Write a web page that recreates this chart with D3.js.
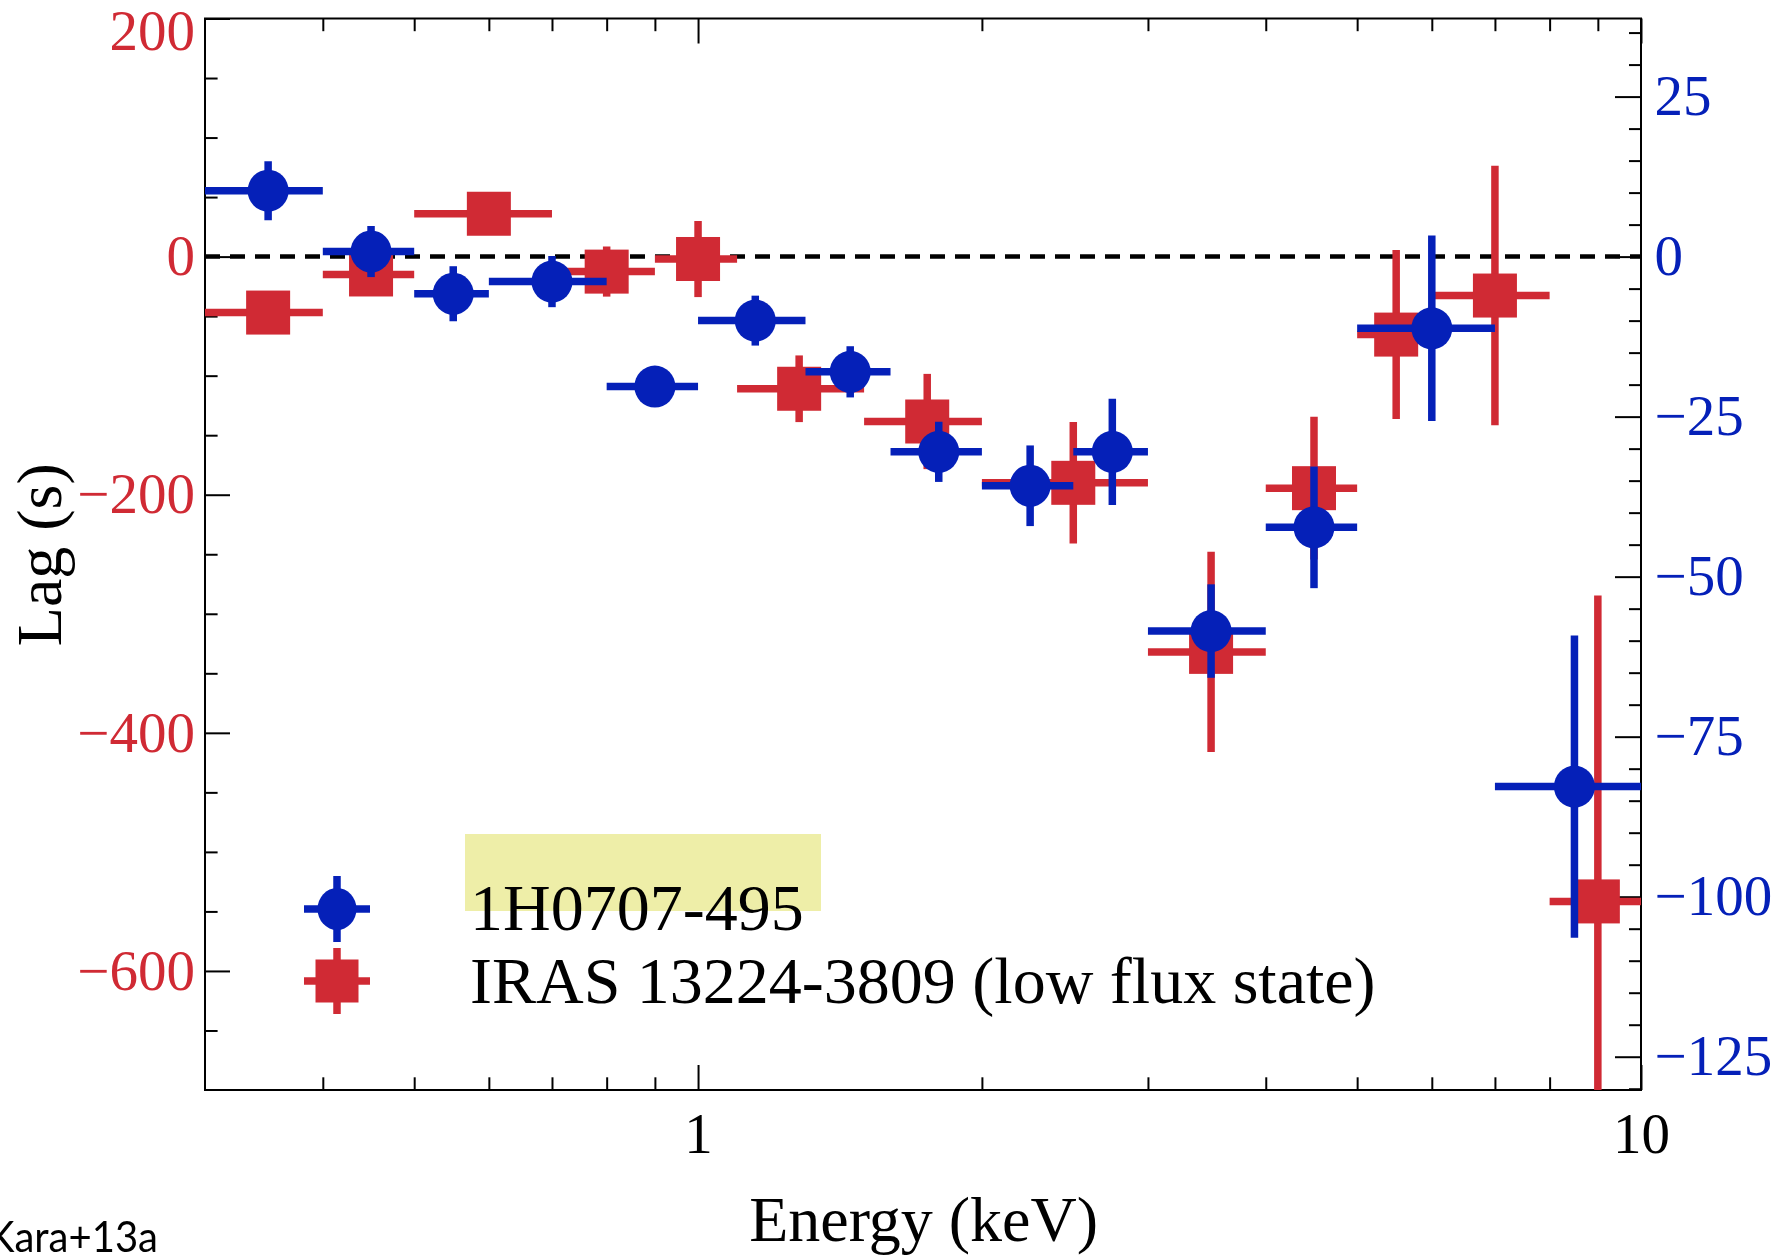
<!DOCTYPE html>
<html>
<head>
<meta charset="utf-8">
<script src="https://cdn.jsdelivr.net/npm/d3@7"></script>
<style>
  body { margin: 0; background: #fff; }
  svg { display: block; }
  .tick text { font-family: "Liberation Serif", "Times New Roman", serif; font-size: 57px; }
  .tick line { stroke: #000; stroke-width: 2; }
</style>
</head>
<body>
<svg width="1777" height="1255"></svg>
<script>
// 1H0707-495 (blue, right axis)
const blueElo = [0.3, 0.4, 0.5, 0.6, 0.8, 1.0, 1.3, 1.6, 2.0, 2.5, 3.0, 4.0, 5.0, 7.0];
const blueEhi = [0.4, 0.5, 0.6, 0.8, 1.0, 1.3, 1.6, 2.0, 2.5, 3.0, 4.0, 5.0, 7.0, 10];
const blueE   = [0.35, 0.45, 0.55, 0.70, 0.90, 1.15, 1.45, 1.80, 2.25, 2.75, 3.50, 4.50, 6.00, 8.50];
const blueLag = [10.3, 0.8, -5.8, -3.9, -20.3, -10.0, -18.0, -30.5, -35.8, -30.5, -58.5, -42.3, -11.2, -82.8];
const blueErr = [4.6, 4.0, 4.3, 4.0, 3.0, 3.9, 4.0, 4.7, 6.3, 8.3, 7.3, 9.5, 14.5, 23.6];

// IRAS 13224-3809 low flux (red, left axis)
const redElo = [0.3, 0.4, 0.5, 0.7, 0.9, 1.1, 1.5, 2.0, 3.0, 4.0, 5.0, 6.0, 8.0];
const redEhi = [0.4, 0.5, 0.7, 0.9, 1.1, 1.5, 2.0, 3.0, 4.0, 5.0, 6.0, 8.0, 10];
const redE   = [0.35, 0.45, 0.60, 0.80, 1.00, 1.28, 1.75, 2.50, 3.50, 4.50, 5.50, 7.00, 9.00];
const redLag = [-47, -15, 36, -12.6, -2, -111, -138.5, -190, -332, -194.5, -65.5, -32.7, -541.6];
const redErr = [12, 17, 12, 21, 32, 28, 40, 51, 84, 60, 71, 109, 257];

// ticks
const xMajor = [1, 10];
const xMinor = [0.4, 0.5, 0.6, 0.7, 0.8, 0.9, 2, 3, 4, 5, 6, 7, 8, 9];
const leftMajor = [-600, -400, -200, 0, 200];
const leftMinor = d3.range(-650, 200, 50).filter(v => !leftMajor.includes(v));
const rightMajor = [-125, -100, -75, -50, -25, 0, 25];
const rightMinor = d3.range(-130, 37, 5).filter(v => !rightMajor.includes(v));

const RED = "#d02a34", BLUE = "#0520b8";
const svg = d3.select("svg");
const L = 205, R = 1641, T = 18.5, B = 1090;

const x = d3.scaleLog().domain([0.3, 10]).range([L, R]);
const yL = d3.scaleLinear().domain([-700, 200]).range([B, T]);
const yR = d3.scaleLinear().domain([-130.2, 37.2]).range([B, T]);

svg.append("clipPath").attr("id", "plot")
  .append("rect").attr("x", L).attr("y", T).attr("width", R - L).attr("height", B - T);

// zero line
svg.append("line")
  .attr("x1", L).attr("x2", R).attr("y1", yL(0)).attr("y2", yL(0))
  .attr("stroke", "#000").attr("stroke-width", 4.5).attr("stroke-dasharray", "15,10");

const noDomain = g => g.select(".domain").remove();

// axes
svg.append("g").attr("transform", `translate(0,${B})`)
  .call(d3.axisBottom(x).tickValues(xMajor).tickSize(-25).tickPadding(23).tickFormat(d3.format("d")))
  .call(noDomain).selectAll("text").attr("fill", "#000");
svg.append("g").attr("transform", `translate(0,${B})`)
  .call(d3.axisBottom(x).tickValues(xMinor).tickSize(-12.7).tickFormat(""))
  .call(noDomain);
svg.append("g").attr("transform", `translate(0,${T})`)
  .call(d3.axisTop(x).tickValues(xMajor).tickSize(-25).tickFormat(""))
  .call(noDomain);
svg.append("g").attr("transform", `translate(0,${T})`)
  .call(d3.axisTop(x).tickValues(xMinor).tickSize(-12.7).tickFormat(""))
  .call(noDomain);

const gl = svg.append("g").attr("transform", `translate(${L},0)`)
  .call(d3.axisLeft(yL).tickValues(leftMajor).tickSize(-25).tickPadding(10))
  .call(noDomain);
gl.selectAll("text").attr("fill", RED)
  .filter(d => d === 200).attr("y", 12.5);
svg.append("g").attr("transform", `translate(${L},0)`)
  .call(d3.axisLeft(yL).tickValues(leftMinor).tickSize(-12.6).tickFormat(""))
  .call(noDomain);

svg.append("g").attr("transform", `translate(${R},0)`)
  .call(d3.axisRight(yR).tickValues(rightMajor).tickSize(-26).tickPadding(13.5))
  .call(noDomain).selectAll("text").attr("fill", BLUE);
svg.append("g").attr("transform", `translate(${R},0)`)
  .call(d3.axisRight(yR).tickValues(rightMinor).tickSize(-12).tickFormat(""))
  .call(noDomain);

svg.append("rect").attr("x", L).attr("y", T).attr("width", R - L).attr("height", B - T)
  .attr("fill", "none").attr("stroke", "#000").attr("stroke-width", 2);

// data
function drawSeries(E, lo, hi, lag, err, y, color, shape) {
  const g = svg.append("g").attr("clip-path", "url(#plot)");
  const pts = g.selectAll("g").data(E.map((e, i) => ({e, lo: lo[i], hi: hi[i], v: lag[i], s: err[i]})))
    .join("g");
  pts.append("line").attr("x1", d => x(d.lo)).attr("x2", d => x(d.hi))
    .attr("y1", d => y(d.v)).attr("y2", d => y(d.v))
    .attr("stroke", color).attr("stroke-width", 7.5);
  pts.append("line").attr("x1", d => x(d.e)).attr("x2", d => x(d.e))
    .attr("y1", d => y(d.v - d.s)).attr("y2", d => y(d.v + d.s))
    .attr("stroke", color).attr("stroke-width", 7.5);
  if (shape === "circle") {
    pts.append("ellipse").attr("cx", d => x(d.e)).attr("cy", d => y(d.v))
      .attr("rx", 20.5).attr("ry", 21).attr("fill", color);
  } else {
    pts.append("rect").attr("x", d => x(d.e) - 22).attr("y", d => y(d.v) - 22)
      .attr("width", 44).attr("height", 44).attr("fill", color);
  }
}
drawSeries(redE, redElo, redEhi, redLag, redErr, yL, RED, "square");
drawSeries(blueE, blueElo, blueEhi, blueLag, blueErr, yR, BLUE, "circle");

// legend
function legendMark(cx, cy, color, shape) {
  const g = svg.append("g");
  g.append("line").attr("x1", cx - 33).attr("x2", cx + 33).attr("y1", cy).attr("y2", cy)
    .attr("stroke", color).attr("stroke-width", 7.5);
  g.append("line").attr("x1", cx).attr("x2", cx).attr("y1", cy - 33).attr("y2", cy + 33)
    .attr("stroke", color).attr("stroke-width", 7.5);
  if (shape === "circle") g.append("ellipse").attr("cx", cx).attr("cy", cy).attr("rx", 19.5).attr("ry", 21).attr("fill", color);
  else g.append("rect").attr("x", cx - 21.5).attr("y", cy - 21.5).attr("width", 43).attr("height", 43).attr("fill", color);
}
legendMark(337, 909, BLUE, "circle");
legendMark(337, 981, RED, "square");

const serif = "'Liberation Serif', 'Times New Roman', serif";
svg.append("text").attr("x", 470).attr("y", 930).attr("font-family", serif).attr("font-size", 66)
  .text("1H0707-495");
svg.append("text").attr("x", 470).attr("y", 1003).attr("font-family", serif).attr("font-size", 66)
  .text("IRAS 13224-3809 (low flux state)");

svg.append("rect").attr("x", 465).attr("y", 834).attr("width", 356).attr("height", 77)
  .attr("fill", "rgb(238,238,168)").style("mix-blend-mode", "multiply");

// axis titles
svg.append("text").attr("x", 923.6).attr("y", 1241).attr("text-anchor", "middle")
  .attr("font-family", serif).attr("font-size", 64).text("Energy (keV)");
svg.append("text").attr("transform", "translate(61,554.7) rotate(-90)").attr("text-anchor", "middle")
  .attr("font-family", serif).attr("font-size", 64).text("Lag (s)");

// source note, cut at the left edge as in the original slide
svg.append("text").attr("x", -12).attr("y", 1251.7).attr("font-family", "Lato, 'Open Sans', sans-serif")
  .attr("font-size", 42).attr("textLength", 170).attr("lengthAdjust", "spacingAndGlyphs")
  .text("Kara+13a");
</script>
</body>
</html>
